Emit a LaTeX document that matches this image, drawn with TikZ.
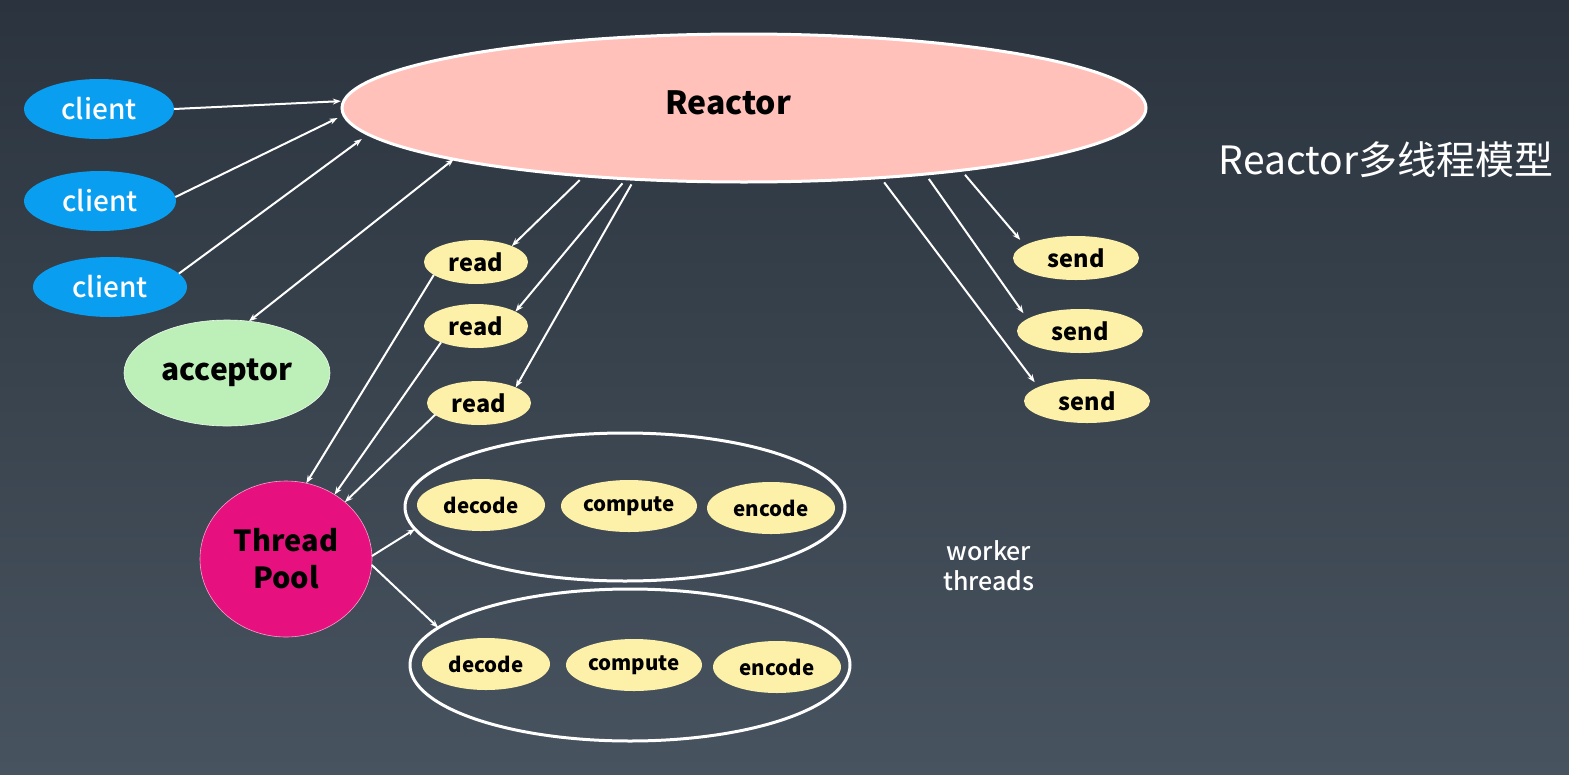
\documentclass[tikz,border=0pt]{standalone}
\usepackage{fontspec}
\setmainfont{Noto Sans CJK SC}
\IfFontExistsTF{Noto Sans CJK SC Medium}{\newfontfamily\medfont{Noto Sans CJK SC Medium}}{\def\medfont{\bfseries}}
\usetikzlibrary{shapes.geometric,arrows.meta,calc}
\definecolor{bgtop}{HTML}{2B343E}
\definecolor{bgbot}{HTML}{47535F}
\definecolor{reactfill}{HTML}{FFC1BA}
\definecolor{clientfill}{HTML}{0A9EF0}
\definecolor{accfill}{HTML}{BDEFB8}
\definecolor{yel}{HTML}{FDF1A9}
\definecolor{poolfill}{HTML}{E6117E}
\begin{document}
\begin{tikzpicture}[x=1pt,y=-1pt,
  every node/.style={inner sep=0pt,outer sep=0pt},
  clientnode/.style={ellipse,fill=clientfill,minimum width=152pt,minimum height=60pt,text=white,font=\medfont\fontsize{28}{32}\selectfont},
  readnode/.style={ellipse,fill=yel,minimum width=104pt,minimum height=44pt,font=\bfseries\fontsize{23.5}{28}\selectfont},
  sendnode/.style={readnode,minimum width=126pt},
  worknode/.style={ellipse,fill=yel,minimum width=128pt,minimum height=52pt,font=\bfseries\fontsize{20.5}{25}\selectfont},
  groupnode/.style={ellipse,draw=white,line width=3pt,minimum width=440pt},
  arr/.style={draw=white,line width=2pt,-{Stealth[length=8pt,width=6pt]}},
  gapstart/.style={shorten <=6pt},
]
\shade[top color=bgtop,bottom color=bgbot] (0,0) rectangle (1569,774);
\useasboundingbox (0,0) rectangle (1569,774);

% Reactor
\node[ellipse,fill=reactfill,draw=white,line width=3pt,minimum width=804pt,minimum height=148pt] (reactor) at (744,108) {};
\node[font=\bfseries\fontsize{32}{36}\selectfont] (reactortext) at (728,103) {Reactor};

% clients
\node[clientnode,minimum width=150pt] (client1) at (99,109) {client};
\node[clientnode] (client2) at (100,201) {client};
\node[clientnode,minimum width=154pt] (client3) at (110,287) {client};

% acceptor
\node[ellipse,fill=accfill,draw=white!70!accfill,line width=0.6pt,minimum width=206pt,minimum height=106pt,font=\bfseries\fontsize{30}{34}\selectfont] (acceptor) at (227,373) {acceptor};

% reads
\node[readnode] (read1) at (476,262) {read};
\node[readnode] (read2) at (476,326) {read};
\node[readnode] (read3) at (479,403) {read};

% sends
\node[sendnode] (send1) at (1076,258) {send};
\node[sendnode] (send2) at (1080,331) {send};
\node[sendnode] (send3) at (1087,401) {send};

% thread pool
\node[ellipse,fill=poolfill,draw=white!60!poolfill,line width=0.6pt,minimum width=172pt,minimum height=156pt,align=center,font=\bfseries\fontsize{29}{37}\selectfont] (tp) at (286,559) {Thread\\Pool};

% worker groups
\node[groupnode,minimum height=148pt] (w1) at (625,507) {};
\node[groupnode,minimum height=152pt] (w2) at (630,665) {};
\node[worknode] (decode1) at (481,505) {decode};
\node[worknode,minimum width=136pt] (compute1) at (629,506) {compute};
\node[worknode] (encode1) at (771,508) {encode};
\node[worknode] (decode2) at (486,664) {decode};
\node[worknode,minimum width=136pt] (compute2) at (634,665) {compute};
\node[worknode] (encode2) at (777,667) {encode};

\node[text=white,align=center,font=\medfont\fontsize{25}{30}\selectfont] (workerlabel) at (989,566) {worker\\threads};
\node[text=white,font=\fontsize{39}{44}\selectfont] (title) at (1386,160) {Reactor多线程模型};

% connectors
\draw[arr,shorten >=3pt] (client1.east) -- (reactor.179);
\draw[arr,shorten >=7pt] (client2.3) -- (reactor.181);
\draw[arr,shorten >=8pt] (client3.11) -- (reactor.184);
\draw[arr,{Stealth[length=8pt,width=6pt]}-{Stealth[length=8pt,width=6pt]}] (acceptor.67) -- (reactor.190);

\draw[arr,gapstart] (reactor.203) -- (read1.24);
\draw[arr,gapstart] (reactor.211) -- (read2.20);
\draw[arr,gapstart] (reactor.213) -- (read3.23);

\draw[arr] (read1.197) -- (tp.75);
\draw[arr] (read2.205) -- (tp.53);
\draw[arr] (read3.195) -- (tp.44);

\draw[arr,gapstart,shorten >=7pt] (reactor.344) -- (send1.166);
\draw[arr,gapstart,shorten >=7pt] (reactor.340) -- (send2.167);
\draw[arr,gapstart,shorten >=6pt] (reactor.333) -- (send3.164);

\draw[arr] (tp.2) -- (w1.186);
\draw[arr] (tp.356) -- (w2.169);
\end{tikzpicture}
\end{document}
